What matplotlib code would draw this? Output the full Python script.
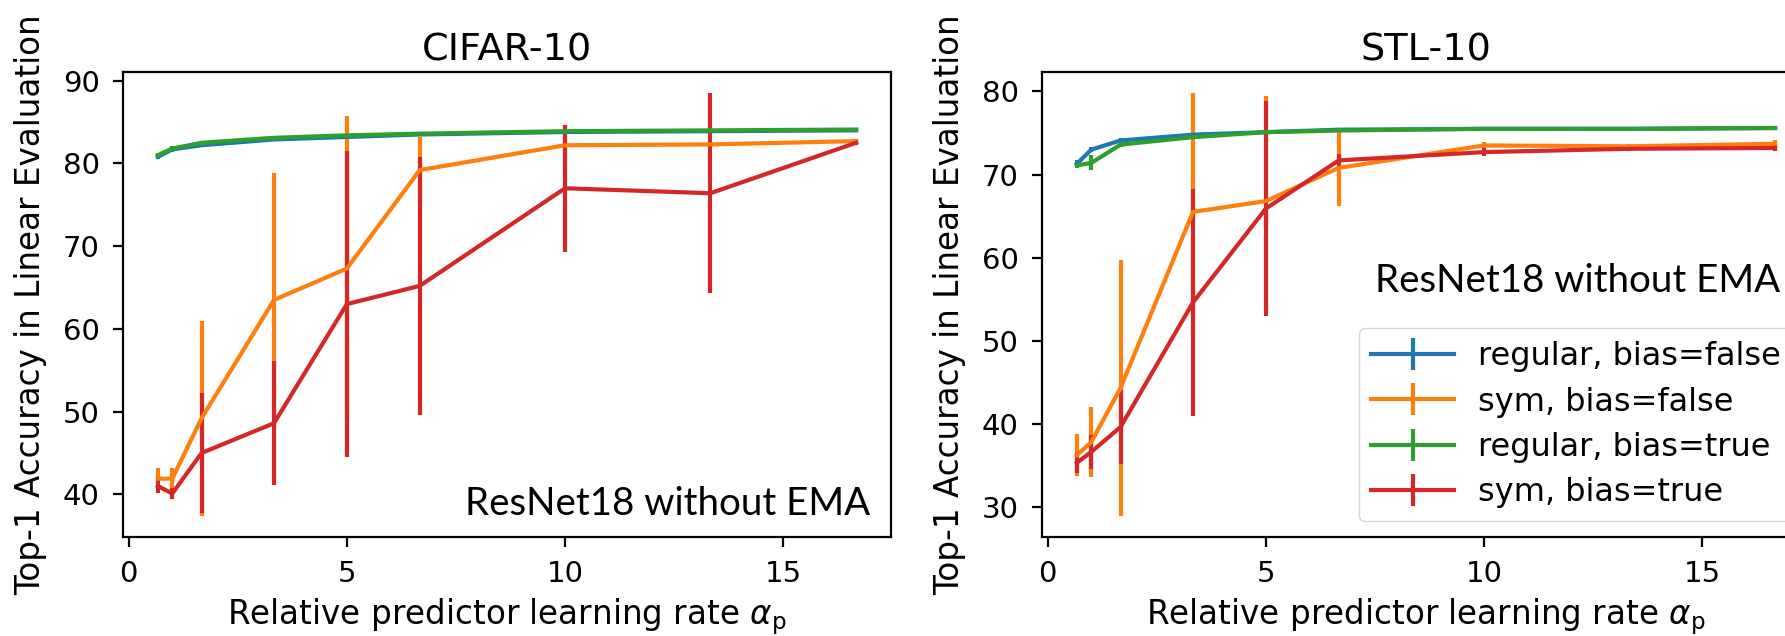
import matplotlib
matplotlib.use("Agg")
import matplotlib.pyplot as plt
import numpy as np

# relative predictor learning rates
alpha_p = [0.67, 1.0, 1.67, 3.33, 5.0, 6.67, 10.0, 13.33, 16.67]

labels = ["regular, bias=false", "sym, bias=false",
          "regular, bias=true", "sym, bias=true"]

# CIFAR-10: mean / std of top-1 linear eval accuracy
cifar_reg_nobias = [80.8, 81.7, 82.2, 82.9, 83.2, 83.5, 83.8, 83.9, 84.0]
cifar_reg_nobias_err = [0.3, 0.3, 0.2, 0.2, 0.2, 0.2, 0.2, 0.2, 0.2]
cifar_sym_nobias = [41.9, 41.9, 49.2, 63.5, 67.3, 79.2, 82.2, 82.3, 82.7]
cifar_sym_nobias_err = [1.3, 1.3, 11.8, 15.3, 18.4, 4.0, 2.5, 0.3, 0.3]
cifar_reg_bias = [81.0, 81.8, 82.5, 83.1, 83.4, 83.6, 83.9, 84.0, 84.1]
cifar_reg_bias_err = [0.3, 0.3, 0.2, 0.2, 0.2, 0.2, 0.2, 0.2, 0.2]
cifar_sym_bias = [41.0, 40.1, 45.0, 48.6, 63.0, 65.2, 77.0, 76.4, 82.5]
cifar_sym_bias_err = [0.8, 0.7, 7.3, 7.5, 18.5, 15.6, 7.7, 12.1, 0.3]

# STL-10
stl_reg_nobias = [71.3, 73.0, 74.1, 74.8, 75.1, 75.4, 75.5, 75.5, 75.6]
stl_reg_nobias_err = [0.4, 0.3, 0.3, 0.2, 0.2, 0.2, 0.2, 0.2, 0.2]
stl_sym_nobias = [36.2, 37.8, 44.3, 65.5, 66.8, 70.8, 73.5, 73.4, 73.7]
stl_sym_nobias_err = [2.5, 4.2, 15.4, 14.3, 12.7, 4.6, 0.4, 0.3, 0.4]
stl_reg_bias = [71.1, 71.4, 73.6, 74.5, 75.1, 75.3, 75.5, 75.5, 75.6]
stl_reg_bias_err = [0.3, 0.9, 0.3, 0.2, 0.2, 0.2, 0.2, 0.2, 0.2]
stl_sym_bias = [35.3, 36.6, 39.6, 54.6, 65.9, 71.7, 72.7, 73.1, 73.2]
stl_sym_bias_err = [1.2, 2.0, 4.4, 13.7, 12.9, 0.8, 0.5, 0.3, 0.4]

colors = ["#1f77b4", "#ff7f0e", "#2ca02c", "#d62728"]

TICK_FS = 21
LABEL_FS = 23.5
TITLE_FS = 27.5
NOTE_FONT = ["Lato", "DejaVu Sans"]
NOTE_WIDTH_PX = 405

fig = plt.figure(figsize=(17.85, 6.36), dpi=100)
W, H = 1785.0, 636.0
ax1 = fig.add_axes([123 / W, (H - 537) / H, 768 / W, 465 / H])
ax2 = fig.add_axes([1042 / W, (H - 537) / H, 768 / W, 465 / H])


def draw_panel(ax, series, title):
    for (y, yerr), lab, c in zip(series, labels, colors):
        ax.errorbar(alpha_p, y, yerr=yerr, color=c, lw=3.0, label=lab)
    ax.set_title(title, fontsize=TITLE_FS, pad=8)
    ax.set_xlabel(r"Relative predictor learning rate $\alpha_{\rm p}$",
                  fontsize=LABEL_FS, labelpad=6)
    ax.set_ylabel("Top-1 Accuracy in Linear Evaluation",
                  fontsize=LABEL_FS, labelpad=11)
    ax.set_xticks([0, 5, 10, 15])
    ax.tick_params(labelsize=TICK_FS, length=7.2, width=1.6, pad=9.5)
    for sp in ax.spines.values():
        sp.set_linewidth(1.6)


draw_panel(ax1, [(cifar_reg_nobias, cifar_reg_nobias_err),
                 (cifar_sym_nobias, cifar_sym_nobias_err),
                 (cifar_reg_bias, cifar_reg_bias_err),
                 (cifar_sym_bias, cifar_sym_bias_err)], "CIFAR-10")
ax1.set_yticks([40, 50, 60, 70, 80, 90])
note1 = ax1.text(0.973, 0.047, "ResNet18 without EMA", transform=ax1.transAxes,
                 ha="right", va="baseline", fontsize=28, family=NOTE_FONT)

draw_panel(ax2, [(stl_reg_nobias, stl_reg_nobias_err),
                 (stl_sym_nobias, stl_sym_nobias_err),
                 (stl_reg_bias, stl_reg_bias_err),
                 (stl_sym_bias, stl_sym_bias_err)], "STL-10")
ax2.set_yticks([30, 40, 50, 60, 70, 80])
note2 = ax2.text(0.433, 0.527, "ResNet18 without EMA", transform=ax2.transAxes,
                 ha="left", va="baseline", fontsize=28, family=NOTE_FONT)
ax2.legend(loc="lower right", fontsize=23, labelspacing=0.45,
           handlelength=2.6, handletextpad=0.75)

# scale the annotation font so the phrase spans the wanted width
renderer = fig.canvas.get_renderer()
for note in (note1, note2):
    w = note.get_window_extent(renderer).width
    note.set_fontsize(note.get_fontsize() * NOTE_WIDTH_PX / w)

fig.savefig("out.png", dpi=100)
